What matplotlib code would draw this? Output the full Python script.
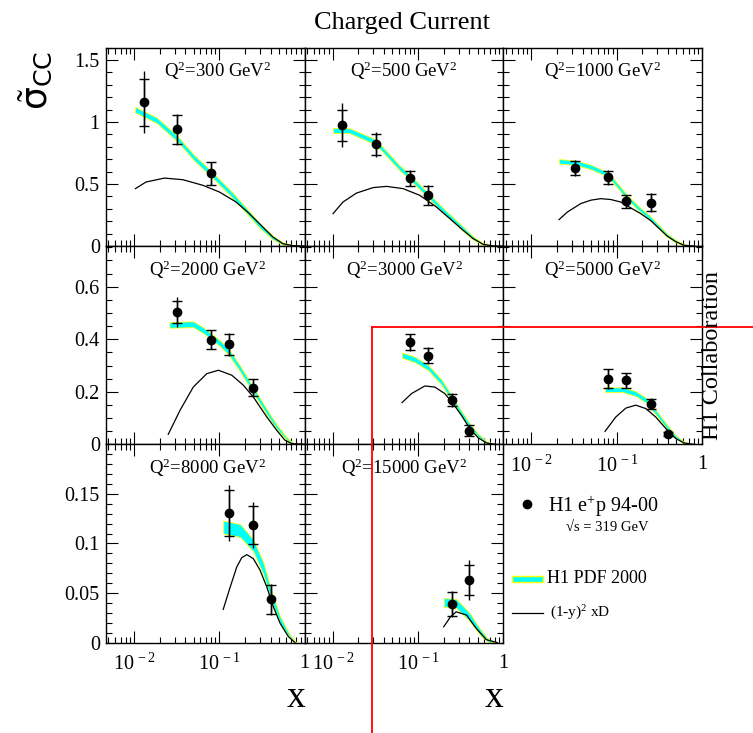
import numpy as np
import matplotlib
matplotlib.use('Agg')
import matplotlib.pyplot as plt
from matplotlib.lines import Line2D
from matplotlib.patches import Rectangle
import matplotlib.ticker as mticker

plt.rcParams['font.family'] = ['Liberation Serif', 'DejaVu Serif']
plt.rcParams['mathtext.fontset'] = 'custom'
plt.rcParams['mathtext.rm'] = 'Liberation Serif'
plt.rcParams['mathtext.it'] = 'Liberation Serif:italic'
plt.rcParams['mathtext.bf'] = 'Liberation Serif:bold'
plt.rcParams['mathtext.sf'] = 'DejaVu Sans'

# ---------------- data ----------------
q2_values = ['300', '500', '1000', '2000', '3000', '5000', '8000', '15000']

# H1 e+p 94-00 measurements: x, sigma_CC, stat err, total err
data_x_300 = [0.013, 0.032, 0.08]
data_y_300 = [1.161, 0.941, 0.586]
stat_300 = [0.19, 0.118, 0.09]
tot_300 = [0.25, 0.125, 0.095]

data_x_500 = [0.013, 0.032, 0.08, 0.13]
data_y_500 = [0.973, 0.82, 0.548, 0.409]
stat_500 = [0.125, 0.085, 0.06, 0.075]
tot_500 = [0.178, 0.10, 0.065, 0.08]

data_x_1000 = [0.032, 0.08, 0.13, 0.25]
data_y_1000 = [0.629, 0.554, 0.36, 0.35]
stat_1000 = [0.06, 0.053, 0.05, 0.07]
tot_1000 = [0.065, 0.058, 0.055, 0.075]

data_x_2000 = [0.032, 0.08, 0.13, 0.25]
data_y_2000 = [0.503, 0.399, 0.381, 0.215]
stat_2000 = [0.043, 0.035, 0.04, 0.032]
tot_2000 = [0.057, 0.038, 0.043, 0.035]

data_x_3000 = [0.08, 0.13, 0.25, 0.40]
data_y_3000 = [0.389, 0.338, 0.168, 0.052]
stat_3000 = [0.03, 0.03, 0.024, 0.02]
tot_3000 = [0.032, 0.032, 0.026, 0.022]

data_x_5000 = [0.08, 0.13, 0.25, 0.40]
data_y_5000 = [0.25, 0.243, 0.155, 0.038]
stat_5000 = [0.036, 0.027, 0.019, 0.008]
tot_5000 = [0.038, 0.03, 0.02, 0.009]

data_x_8000 = [0.13, 0.25, 0.40]
data_y_8000 = [0.1305, 0.1185, 0.0435]
stat_8000 = [0.023, 0.019, 0.015]
tot_8000 = [0.028, 0.023, 0.016]

data_x_15000 = [0.25, 0.40]
data_y_15000 = [0.0389, 0.0633]
stat_15000 = [0.0125, 0.015]
tot_15000 = [0.013, 0.02]

# H1 PDF 2000 band: centre and half width
band_x_300 = [0.0103, 0.0185, 0.0322, 0.0509, 0.08, 0.131, 0.206, 0.294, 0.423, 0.553, 0.726, 0.98]
band_y_300 = [1.10, 1.014, 0.866, 0.71, 0.584, 0.436, 0.288, 0.167, 0.068, 0.02, 0.003, 0.0]
band_w_300 = [0.022, 0.022, 0.022, 0.022, 0.022, 0.022, 0.021, 0.019, 0.015, 0.009, 0.004, 0.0]

band_x_500 = [0.0101, 0.0158, 0.032, 0.061, 0.08, 0.137, 0.215, 0.337, 0.441, 0.578, 0.77, 0.97]
band_y_500 = [0.933, 0.93, 0.839, 0.63, 0.556, 0.395, 0.261, 0.139, 0.065, 0.015, 0.0, 0.0]
band_w_500 = [0.02, 0.02, 0.02, 0.02, 0.02, 0.02, 0.019, 0.017, 0.013, 0.007, 0.0, 0.0]

band_x_1000 = [0.0211, 0.033, 0.05, 0.08, 0.13, 0.18, 0.25, 0.39, 0.49, 0.615, 0.8]
band_y_1000 = [0.683, 0.672, 0.637, 0.575, 0.40, 0.305, 0.221, 0.086, 0.04, 0.008, 0.0]
band_w_1000 = [0.018, 0.018, 0.018, 0.018, 0.018, 0.017, 0.016, 0.013, 0.01, 0.005, 0.0]

band_x_2000 = [0.026, 0.0495, 0.065, 0.102, 0.13, 0.175, 0.25, 0.36, 0.471, 0.616, 0.73, 0.97]
band_y_2000 = [0.455, 0.457, 0.434, 0.384, 0.35, 0.288, 0.206, 0.123, 0.066, 0.022, 0.004, 0.0]
band_w_2000 = [0.011, 0.011, 0.011, 0.011, 0.011, 0.011, 0.011, 0.01, 0.008, 0.005, 0.002, 0.0]

band_x_3000 = [0.065, 0.0916, 0.131, 0.188, 0.257, 0.323, 0.404, 0.506, 0.634, 0.8]
band_y_3000 = [0.339, 0.323, 0.292, 0.237, 0.168, 0.117, 0.072, 0.034, 0.009, 0.0]
band_w_3000 = [0.01, 0.01, 0.01, 0.01, 0.01, 0.009, 0.008, 0.006, 0.003, 0.0]

band_x_5000 = [0.073, 0.117, 0.167, 0.219, 0.286, 0.376, 0.492, 0.615, 0.8]
band_y_5000 = [0.208, 0.208, 0.193, 0.168, 0.123, 0.072, 0.028, 0.007, 0.0]
band_w_5000 = [0.009, 0.009, 0.009, 0.009, 0.009, 0.008, 0.006, 0.003, 0.0]

band_x_8000 = [0.111, 0.175, 0.25, 0.328, 0.412, 0.515, 0.674, 0.8]
band_y_8000 = [0.1165, 0.113, 0.098, 0.0747, 0.046, 0.0228, 0.006, 0.0]
band_w_8000 = [0.0065, 0.0065, 0.006, 0.006, 0.005, 0.0035, 0.0015, 0.0]

band_x_15000 = [0.2, 0.28, 0.40, 0.53, 0.66, 0.85]
band_y_15000 = [0.0405, 0.0395, 0.026, 0.011, 0.002, 0.0]
band_w_15000 = [0.0045, 0.0045, 0.004, 0.003, 0.0015, 0.0]

# (1-y)^2 xD contribution
xd_x_300 = [0.0104, 0.0138, 0.0227, 0.0373, 0.0639, 0.1, 0.157, 0.225, 0.323, 0.423, 0.553, 0.726, 0.98]
xd_y_300 = [0.463, 0.516, 0.548, 0.535, 0.49, 0.436, 0.355, 0.261, 0.153, 0.073, 0.019, 0.003, 0.0]

xd_x_500 = [0.0101, 0.0132, 0.019, 0.0297, 0.0427, 0.0667, 0.1047, 0.164, 0.236, 0.337, 0.441,
            0.578, 0.77, 0.97]
xd_y_500 = [0.261, 0.355, 0.427, 0.471, 0.481, 0.463, 0.409, 0.315, 0.221, 0.127, 0.06,
            0.014, 0.0, 0.0]

xd_x_1000 = [0.0211, 0.0264, 0.0378, 0.05, 0.065, 0.085, 0.111, 0.191, 0.25, 0.39, 0.49, 0.615, 0.8]
xd_y_1000 = [0.213, 0.274, 0.342, 0.37, 0.382, 0.375, 0.355, 0.261, 0.205, 0.08, 0.035, 0.006, 0.0]

xd_x_2000 = [0.0252, 0.0347, 0.0495, 0.0713, 0.0976, 0.14, 0.191, 0.25, 0.36, 0.471, 0.589, 0.706, 0.97]
xd_y_2000 = [0.038, 0.13, 0.218, 0.269, 0.282, 0.263, 0.225, 0.18, 0.104, 0.053, 0.015, 0.003, 0.0]

xd_x_3000 = [0.065, 0.0838, 0.12, 0.157, 0.206, 0.257, 0.323, 0.404, 0.506, 0.634, 0.8]
xd_y_3000 = [0.159, 0.193, 0.222, 0.218, 0.193, 0.155, 0.11, 0.06, 0.025, 0.005, 0.0]

xd_x_5000 = [0.073, 0.0975, 0.128, 0.167, 0.219, 0.286, 0.376, 0.492, 0.615, 0.8]
xd_y_5000 = [0.0495, 0.104, 0.138, 0.149, 0.136, 0.104, 0.06, 0.022, 0.005, 0.0]

xd_x_8000 = [0.111, 0.134, 0.16, 0.183, 0.21, 0.25, 0.30, 0.36, 0.43, 0.515, 0.644, 0.77]
xd_y_8000 = [0.0335, 0.056, 0.0763, 0.0857, 0.0887, 0.0847, 0.073, 0.056, 0.036, 0.0195, 0.006, 0.0]

xd_x_15000 = [0.2, 0.24, 0.28, 0.37, 0.48, 0.63, 0.85]
xd_y_15000 = [0.016, 0.026, 0.031, 0.0278, 0.0144, 0.003, 0.0]

row_ymax = [1.6, 0.755, 0.2]
row_yticks = [[0, 0.5, 1, 1.5], [0, 0.2, 0.4, 0.6], [0, 0.05, 0.1, 0.15]]
row_yticklabels = [['0', '0.5', '1', '1.5'], ['0', '0.2', '0.4', '0.6'], ['0', '0.05', '0.1', '0.15']]
row_yminor = [0.1, 0.05, 0.01]
xtick_values = [0.01, 0.1, 1]
xtick_labels = [r'$10^{\,-2}$', r'$10^{\,-1}$', '1']

panels = [
    (data_x_300, data_y_300, stat_300, tot_300, band_x_300, band_y_300, band_w_300, xd_x_300, xd_y_300),
    (data_x_500, data_y_500, stat_500, tot_500, band_x_500, band_y_500, band_w_500, xd_x_500, xd_y_500),
    (data_x_1000, data_y_1000, stat_1000, tot_1000, band_x_1000, band_y_1000, band_w_1000, xd_x_1000, xd_y_1000),
    (data_x_2000, data_y_2000, stat_2000, tot_2000, band_x_2000, band_y_2000, band_w_2000, xd_x_2000, xd_y_2000),
    (data_x_3000, data_y_3000, stat_3000, tot_3000, band_x_3000, band_y_3000, band_w_3000, xd_x_3000, xd_y_3000),
    (data_x_5000, data_y_5000, stat_5000, tot_5000, band_x_5000, band_y_5000, band_w_5000, xd_x_5000, xd_y_5000),
    (data_x_8000, data_y_8000, stat_8000, tot_8000, band_x_8000, band_y_8000, band_w_8000, xd_x_8000, xd_y_8000),
    (data_x_15000, data_y_15000, stat_15000, tot_15000, band_x_15000, band_y_15000, band_w_15000,
     xd_x_15000, xd_y_15000),
]

# ---------------- figure ----------------
W, H = 753, 733
fig = plt.figure(figsize=(W / 100, H / 100), dpi=100)


def fx(px):
    return px / W


def fy(py):
    return 1 - py / H


left0, colw = 106.0, 198.7
top0, rowh = 47.7, 198.3
label_xfrac = [0.56, 0.5, 0.5, 0.51, 0.5, 0.5, 0.51, 0.5]

CYAN = '#00FFFF'
YELLOW = '#FFFF00'

for i, (dx, dy, st, tt, bx, by, bw, kx, ky) in enumerate(panels):
    r, c = divmod(i, 3)
    ax = fig.add_axes([fx(left0 + c * colw), fy(top0 + (r + 1) * rowh), colw / W, rowh / H])
    by = np.array(by)
    bw = np.array(bw)
    ax.fill_between(bx, by - bw, by + bw, facecolor=CYAN, edgecolor=YELLOW, lw=0.6, zorder=2)
    ax.plot(kx, ky, color='k', lw=0.9, zorder=3)
    ax.errorbar(dx, dy, yerr=tt, fmt='none', ecolor='k', elinewidth=1.0, capsize=0, zorder=4)
    ax.errorbar(dx, dy, yerr=st, fmt='o', color='k', ms=6, elinewidth=1.0,
                capsize=3.4, capthick=1.0, zorder=5)
    ax.set_xscale('log')
    ax.set_xlim(0.0047, 1)
    ax.set_ylim(0, row_ymax[r])
    ax.xaxis.set_major_locator(mticker.FixedLocator(xtick_values))
    ax.xaxis.set_minor_locator(mticker.LogLocator(base=10, subs=np.arange(2, 10), numticks=20))
    ax.xaxis.set_minor_formatter(mticker.NullFormatter())
    ax.yaxis.set_major_locator(mticker.FixedLocator(row_yticks[r]))
    ax.yaxis.set_minor_locator(mticker.MultipleLocator(row_yminor[r]))
    ax.tick_params(which='both', direction='in', top=True, right=True, width=0.8,
                   labelsize=14.5)
    ax.tick_params(which='major', length=8.5)
    ax.tick_params(axis='y', which='major', pad=4.5)
    ax.tick_params(axis='x', which='major', pad=8)
    ax.tick_params(which='minor', length=4.2)
    for sp in ax.spines.values():
        sp.set_linewidth(1.0)
    if c == 0:
        ax.set_yticklabels(row_yticklabels[r])
    else:
        ax.tick_params(labelleft=False)
    if r == 2 or i == 5:
        ax.set_xticklabels(xtick_labels)
    else:
        ax.tick_params(labelbottom=False)
    ax.text(label_xfrac[i], 0.85, r'Q$^{2}$=' + q2_values[i] + r' GeV$^{2}$',
            transform=ax.transAxes, ha='center', va='baseline', fontsize=13.5)

# titles and labels
fig.text(fx(402), fy(29), 'Charged Current', ha='center', va='baseline', fontsize=19)
fig.text(fx(36), fy(80), r'$\tilde{\mathsf{\sigma}}_{\mathsf{CC}}$', rotation=90,
         ha='center', va='center', fontsize=26)
fig.text(fx(305), fy(706.7), 'x', ha='right', va='baseline', fontsize=27)
fig.text(fx(503), fy(706.7), 'x', ha='right', va='baseline', fontsize=27)
fig.text(fx(713), fy(355), 'H1 Collaboration', rotation=90, ha='center', va='center', fontsize=17.5)

# legend
fig.add_artist(Line2D([fx(526.7)], [fy(504.3)], marker='o', color='k', ms=6, ls='none',
                      transform=fig.transFigure))
fig.text(fx(548), fy(511.7), r'H1 e$^{+}$p 94-00', fontsize=14.5, va='baseline')
fig.text(fx(607), fy(527), '\u221as = 319 GeV', fontsize=10.5, ha='center', va='center')
fig.add_artist(Rectangle((fx(511.7), fy(582.2)), 31 / W, 5.8 / H, facecolor=CYAN,
                         edgecolor=YELLOW, lw=1.0, transform=fig.transFigure))
fig.text(fx(546.7), fy(583.3), 'H1 PDF 2000', fontsize=13, va='baseline')
fig.add_artist(Line2D([fx(511.7), fx(542.7)], [fy(613.3), fy(613.3)], color='k', lw=0.9,
                      transform=fig.transFigure))
fig.text(fx(550), fy(613.3), r'(1-y)$^{2}$ xD', fontsize=11, va='center')

# red guide lines
fig.add_artist(Line2D([fx(372), fx(753)], [fy(327), fy(327)], color='red', lw=1.3,
                      transform=fig.transFigure))
fig.add_artist(Line2D([fx(372), fx(372)], [fy(327), fy(733)], color='red', lw=1.3,
                      transform=fig.transFigure))

fig.savefig('out.png', dpi=100)
